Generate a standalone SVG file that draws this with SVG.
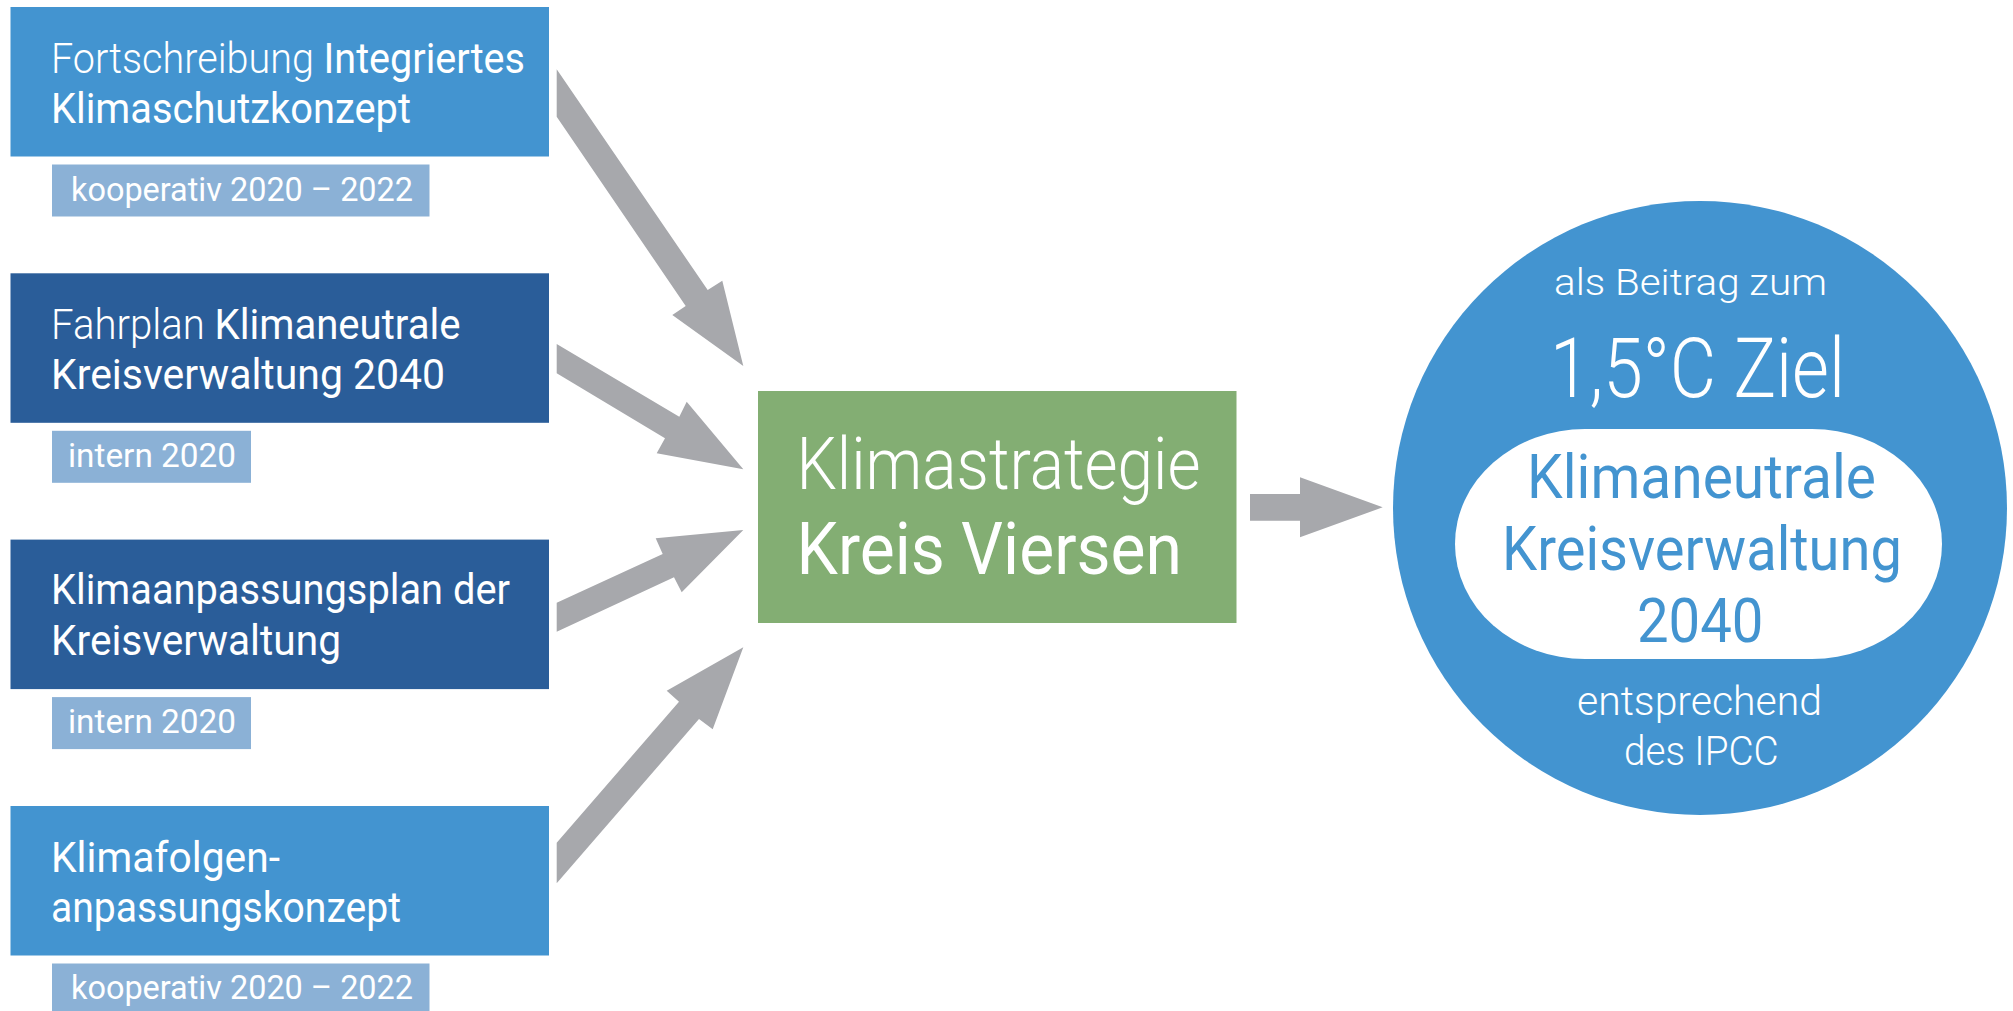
<svg xmlns="http://www.w3.org/2000/svg" width="2013" height="1011" viewBox="0 0 2013 1011">
<style>
  text { font-family: Roboto, "Open Sans", "Liberation Sans", sans-serif; fill: #ffffff; }
  .lt { font-weight: 300; }
  .rg { font-weight: 400; }
  .bx { font-size: 42px; }
  .tg { font-size: 33px; font-weight: 400; }
  .light-blue { fill: #4394D0; }
  .dark-blue { fill: #2A5D99; }
  .tag { fill: #8BB1D6; }
  .arrow { fill: #A7A8AC; }
  .blue-text { fill: #4394D0; }
</style>
<rect x="0" y="0" width="2013" height="1011" fill="#ffffff"/>

<g id="connectors">
  <polygon class="arrow" points="556.7,69.3 707.7,290 722.3,280.7 743.3,366 672.3,315 685.7,306 556.7,116.7"/>
  <polygon class="arrow" points="556.7,344 679.3,416.7 686.7,401.7 743.3,469.3 656.7,453.3 665,438.3 556.7,373.3"/>
  <polygon class="arrow" points="556.7,602.7 662.7,554 655.7,538.3 743.3,530 681.7,592.3 674,577.3 556.7,631.7"/>
  <polygon class="arrow" points="556.7,842.7 679,701.7 666.7,690.7 743.3,647.3 712.7,729.3 699,719 556.7,883.3"/>
  <polygon class="arrow" points="1250,494 1300,494 1300,477.3 1382.7,507.3 1300,537.3 1300,520.7 1250,520.7"/>
</g>

<g id="node-iks">
  <rect class="light-blue" x="10.5" y="7" width="538.5" height="149.5"/>
  <text class="bx" x="51" y="72.7" textLength="474" lengthAdjust="spacingAndGlyphs"><tspan class="lt">Fortschreibung </tspan><tspan class="rg">Integriertes</tspan></text>
  <text class="bx rg" x="51" y="123.3" textLength="360" lengthAdjust="spacingAndGlyphs">Klimaschutzkonzept</text>
  <rect class="tag" x="52" y="164.5" width="377.5" height="52"/>
  <text class="tg" x="71" y="201" textLength="342" lengthAdjust="spacingAndGlyphs">kooperativ 2020 – 2022</text>
</g>

<g id="node-fahrplan">
  <rect class="dark-blue" x="10.5" y="273.3" width="538.5" height="149.5"/>
  <text class="bx" x="51" y="339" textLength="409.5" lengthAdjust="spacingAndGlyphs"><tspan class="lt">Fahrplan </tspan><tspan class="rg">Klimaneutrale</tspan></text>
  <text class="bx rg" x="51" y="389.3" textLength="394" lengthAdjust="spacingAndGlyphs">Kreisverwaltung 2040</text>
  <rect class="tag" x="52" y="430.8" width="199" height="52"/>
  <text class="tg" x="68" y="466.7" textLength="168" lengthAdjust="spacingAndGlyphs">intern 2020</text>
</g>

<g id="node-anpassungsplan">
  <rect class="dark-blue" x="10.5" y="539.6" width="538.5" height="149.5"/>
  <text class="bx rg" x="51" y="604" textLength="459" lengthAdjust="spacingAndGlyphs">Klimaanpassungsplan der</text>
  <text class="bx rg" x="51" y="655" textLength="290" lengthAdjust="spacingAndGlyphs">Kreisverwaltung</text>
  <rect class="tag" x="52" y="697.1" width="199" height="52"/>
  <text class="tg" x="68" y="732.7" textLength="168" lengthAdjust="spacingAndGlyphs">intern 2020</text>
</g>

<g id="node-klimafolgen">
  <rect class="light-blue" x="10.5" y="806" width="538.5" height="149.5"/>
  <text class="bx rg" x="51" y="871.7" textLength="229" lengthAdjust="spacingAndGlyphs">Klimafolgen-</text>
  <text class="bx rg" x="51" y="922.3" textLength="350" lengthAdjust="spacingAndGlyphs">anpassungskonzept</text>
  <rect class="tag" x="52" y="963.5" width="377.5" height="52"/>
  <text class="tg" x="71" y="999.3" textLength="342" lengthAdjust="spacingAndGlyphs">kooperativ 2020 – 2022</text>
</g>

<g id="node-klimastrategie">
  <rect fill="#83AE73" x="758" y="391" width="478.5" height="232"/>
  <text class="lt" font-size="72" x="796.5" y="489.3" textLength="404" lengthAdjust="spacingAndGlyphs">Klimastrategie</text>
  <text class="rg" font-size="72" x="796.5" y="574" textLength="385.5" lengthAdjust="spacingAndGlyphs">Kreis Viersen</text>
</g>

<g id="node-ziel">
  <circle class="light-blue" cx="1700" cy="508" r="307"/>
  <rect fill="#ffffff" x="1455" y="429" width="487" height="230" rx="130" ry="115"/>
  <text class="lt" font-size="37" x="1554" y="295" textLength="273" lengthAdjust="spacingAndGlyphs">als Beitrag zum</text>
  <text class="lt" font-size="83" x="1550" y="396.7" textLength="295" lengthAdjust="spacingAndGlyphs">1,5°C Ziel</text>
  <text class="rg blue-text" font-size="61" x="1527" y="498.3" textLength="349" lengthAdjust="spacingAndGlyphs">Klimaneutrale</text>
  <text class="rg blue-text" font-size="61" x="1502" y="570" textLength="400" lengthAdjust="spacingAndGlyphs">Kreisverwaltung</text>
  <text class="rg blue-text" font-size="61" x="1637" y="642.3" textLength="126.5" lengthAdjust="spacingAndGlyphs">2040</text>
  <text class="lt" font-size="40" x="1577" y="715" textLength="245" lengthAdjust="spacingAndGlyphs">entsprechend</text>
  <text class="lt" font-size="40" x="1624" y="765" textLength="154.5" lengthAdjust="spacingAndGlyphs">des IPCC</text>
</g>
</svg>
